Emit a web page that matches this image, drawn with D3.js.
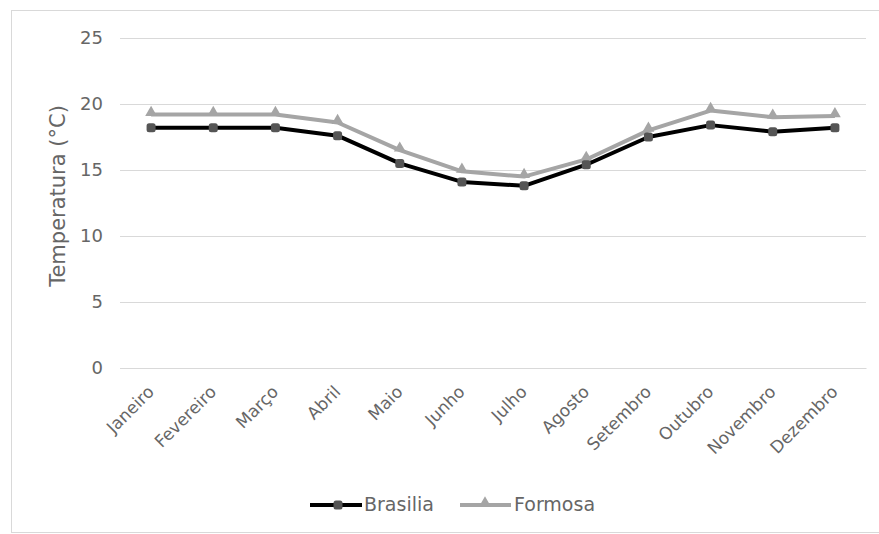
<!DOCTYPE html>
<html><head><meta charset="utf-8">
<script src="https://cdn.jsdelivr.net/npm/d3@7"></script>
<style>body{margin:0;background:#fff;} text{font-family:"DejaVu Sans",Verdana,sans-serif;}</style>
</head><body>
<svg id="c" width="879" height="534"></svg>
<script>
const months = ["Janeiro","Fevereiro","Março","Abril","Maio","Junho","Julho","Agosto","Setembro","Outubro","Novembro","Dezembro"];
const brasilia = [18.2,18.2,18.2,17.6,15.5,14.1,13.8,15.4,17.5,18.4,17.9,18.2];
const formosa = [19.2,19.2,19.2,18.6,16.5,14.9,14.5,15.8,18.0,19.5,19.0,19.1];
const yTicks = [0,5,10,15,20,25];
const seriesNames = ["Brasilia","Formosa"];

const svg = d3.select("#c");
svg.append("rect").attr("x",11.5).attr("y",10.5).attr("width",880).attr("height",522)
  .attr("fill","#fff").attr("stroke","#d9d9d9").attr("stroke-width",1);

const x = d3.scaleBand().domain(months).range([120,866]);
const y = d3.scaleLinear().domain([0,25]).range([368,38]);

const gy = svg.append("g").attr("transform","translate(120,0)")
  .call(d3.axisLeft(y).tickValues(yTicks).tickSize(-746).tickPadding(17));
gy.select(".domain").remove();
gy.selectAll(".tick line").attr("stroke","#d9d9d9").attr("stroke-width",1);
gy.selectAll(".tick text").attr("fill","#666").style("font-size","18px");

const gx = svg.append("g").attr("transform","translate(0,368)")
  .call(d3.axisBottom(x).tickSize(0).tickPadding(0));
gx.select(".domain").attr("stroke","#d9d9d9");
gx.selectAll(".tick text").attr("fill","#666").style("font-size","17px")
  .attr("text-anchor","end").attr("dy","0").attr("y",0)
  .attr("transform","translate(4,25) rotate(-45)");

svg.append("text").attr("transform","translate(65,196) rotate(-90)")
  .attr("text-anchor","middle").attr("fill","#666").style("font-size","21px")
  .text("Temperatura (°C)");

const line = d3.line().x((d,i)=>x(months[i])+x.bandwidth()/2).y(d=>y(d));
const tri = d3.symbol().type(d3.symbolTriangle).size(60);

svg.append("path").datum(formosa).attr("d",line).attr("fill","none")
  .attr("stroke","#a5a5a5").attr("stroke-width",4).attr("stroke-linejoin","round");
svg.selectAll(".tf").data(formosa).enter().append("path")
  .attr("d",tri).attr("fill","#a5a5a5")
  .attr("transform",(d,i)=>`translate(${x(months[i])+x.bandwidth()/2},${y(d)-2})`);

svg.append("path").datum(brasilia).attr("d",line).attr("fill","none")
  .attr("stroke","#000").attr("stroke-width",4).attr("stroke-linejoin","round");
svg.selectAll(".sb").data(brasilia).enter().append("rect")
  .attr("x",(d,i)=>x(months[i])+x.bandwidth()/2-4.5).attr("y",d=>y(d)-4.5)
  .attr("width",9).attr("height",9).attr("rx",2.5).attr("fill","#555");

// legend
const lg = svg.append("g");
lg.append("line").attr("x1",310).attr("x2",362).attr("y1",505).attr("y2",505).attr("stroke","#000").attr("stroke-width",4);
lg.append("rect").attr("x",333.5).attr("y",500.5).attr("width",9).attr("height",9).attr("rx",2.5).attr("fill","#555");
lg.append("text").attr("x",364).attr("y",511).attr("fill","#666").style("font-size","19px").text(seriesNames[0]);
lg.append("line").attr("x1",460).attr("x2",511).attr("y1",505).attr("y2",505).attr("stroke","#a5a5a5").attr("stroke-width",4);
lg.append("path").attr("d",tri).attr("fill","#a5a5a5").attr("transform","translate(485,503)");
lg.append("text").attr("x",514).attr("y",511).attr("fill","#666").style("font-size","19px").text(seriesNames[1]);
</script>
</body></html>
